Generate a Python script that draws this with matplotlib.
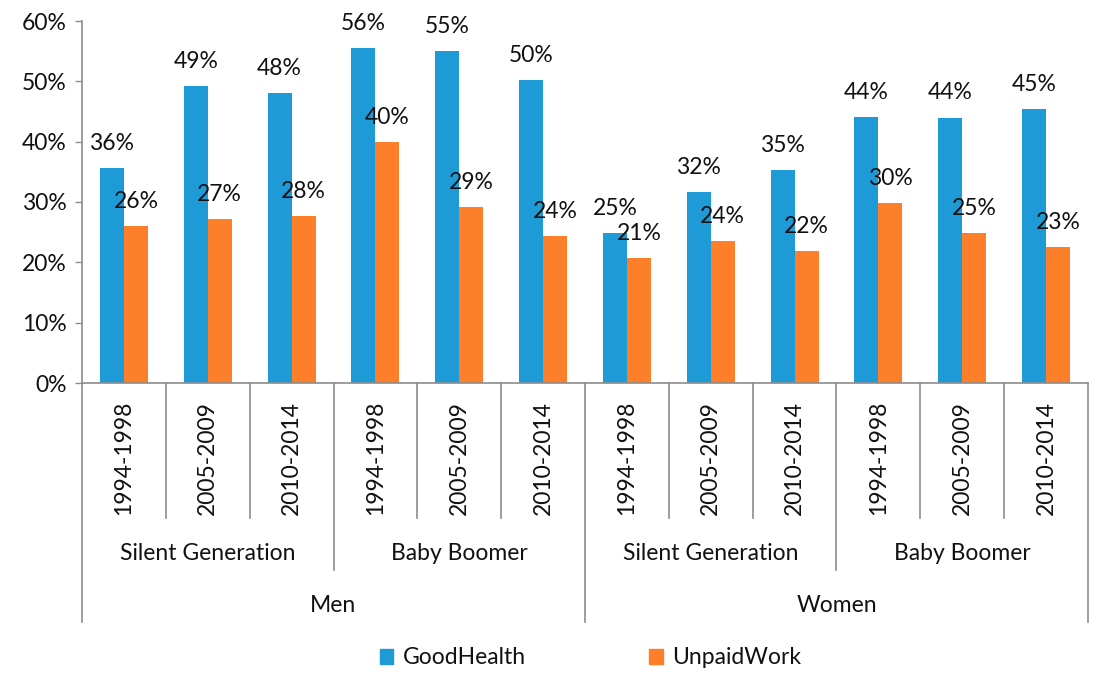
import matplotlib
matplotlib.use("Agg")
import matplotlib.pyplot as plt
from matplotlib.lines import Line2D
from matplotlib.transforms import blended_transform_factory
from matplotlib.patches import Patch

plt.rcParams['font.family'] = ['Lato', 'DejaVu Sans']

periods = ["1994-1998", "2005-2009", "2010-2014"] * 4
generations = ["Silent Generation", "Baby Boomer", "Silent Generation", "Baby Boomer"]
sexes = ["Men", "Women"]
good_health = [0.357, 0.492, 0.481, 0.555, 0.551, 0.502,
               0.248, 0.316, 0.353, 0.441, 0.440, 0.454]
unpaid_work = [0.260, 0.271, 0.276, 0.399, 0.291, 0.243,
               0.207, 0.236, 0.218, 0.299, 0.249, 0.226]
series_names = ["GoodHealth", "UnpaidWork"]
colors = ["#1E9AD6", "#FE7F2A"]

W, H = 1114, 673
fig = plt.figure(figsize=(W / 100, H / 100), dpi=100)
ax = fig.add_axes([82 / W, 1 - 383 / H, (1088 - 82) / W, (383 - 21) / H])

n = len(periods)
x = list(range(n))
bw = 0.286
fs = 16.5
txtc = "#111111"
gray = "#8c8c8c"

b1 = ax.bar([i - bw / 2 for i in x], good_health, bw, color=colors[0], zorder=2)
b2 = ax.bar([i + bw / 2 for i in x], unpaid_work, bw, color=colors[1], zorder=2)

for bars, vals in ((b1, good_health), (b2, unpaid_work)):
    for r, v in zip(bars, vals):
        ax.annotate(f"{round(v * 100):d}%", (r.get_x() + r.get_width() / 2, v),
                    xytext=(0, 13), textcoords="offset points",
                    ha="center", va="baseline", fontsize=fs, color=txtc)

ax.set_xlim(-0.5, n - 0.5)
ax.set_ylim(0, 0.6)
ax.set_yticks([i / 10 for i in range(7)])
ax.set_yticklabels([f"{i * 10}%" for i in range(7)], fontsize=fs, color=txtc)
ax.tick_params(axis="y", length=5, color=gray, width=1, pad=6)
ax.set_xticks([])
for s in ("top", "right"):
    ax.spines[s].set_visible(False)
for s in ("left", "bottom"):
    ax.spines[s].set_color(gray)
    ax.spines[s].set_linewidth(1.2)

tr = blended_transform_factory(ax.transData, fig.transFigure)

def fy(py):
    return 1 - py / H

# period boundaries
for i in range(n + 1):
    b = i - 0.5
    if i % 6 == 0:
        bottom = 622
    elif i % 3 == 0:
        bottom = 570
    else:
        bottom = 518
    fig.add_artist(Line2D([b, b], [fy(383), fy(bottom)], transform=tr,
                          color=gray, lw=1.2))

for i, p in enumerate(periods):
    fig.text(i, fy(401), p, transform=tr, rotation=90, ha="center", va="top",
             fontsize=fs, color=txtc)

for g, name in enumerate(generations):
    fig.text(g * 3 + 1, fy(553), name, transform=tr, ha="center", va="center",
             fontsize=fs, color=txtc)

for s, name in enumerate(sexes):
    fig.text(s * 6 + 2.5, fy(605), name, transform=tr, ha="center", va="center",
             fontsize=fs, color=txtc)

handles = [Patch(color=c) for c in colors]
fig.legend(handles, series_names, loc="center", bbox_to_anchor=(0.53, fy(658)),
           ncol=2, frameon=False, fontsize=fs, handlelength=0.6, handleheight=0.6,
           handletextpad=0.4, columnspacing=5.4, labelcolor=txtc)

fig.savefig("out.png", dpi=100, facecolor="white")
